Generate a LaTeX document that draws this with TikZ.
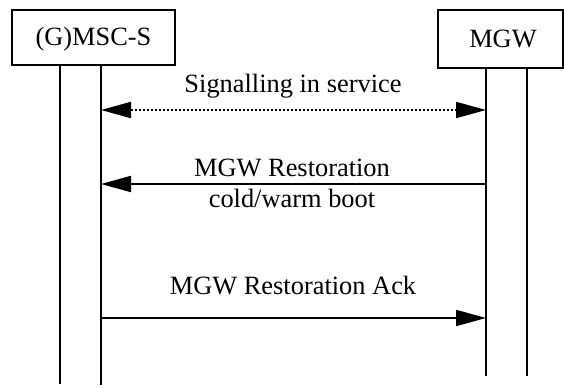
\documentclass[tikz,border=0pt]{standalone}
\usepackage{fontspec}
\setmainfont{Liberation Serif}
\usetikzlibrary{arrows.meta}
\tikzset{
  entity/.style={draw,line width=1pt,inner sep=0pt},
  msgtext/.style={anchor=base,inner sep=0pt},
  lifeline/.style={line width=1pt},
  msg/.style={line width=1pt,-{Triangle[length=15pt,width=8pt]}},
}
\begin{document}
\begin{tikzpicture}[x=0.5pt,y=-0.5pt,font=\fontsize{13.2pt}{15pt}\selectfont]
  \useasboundingbox (0,0) rectangle (564,387);
  % entities
  \node[entity,minimum width=81.5pt,minimum height=27.5pt] (msc) at (93.5,37.5) {};
  \node[msgtext] at (93.5,45) {(G)MSC-S};
  \node[entity,minimum width=62.5pt,minimum height=29pt] (mgw) at (500.5,39) {};
  \node[msgtext] at (503,47) {MGW};

  % lifelines
  \coordinate (mscA) at (60,65);   \coordinate (mscAe) at (60,384);
  \coordinate (mscB) at (101,65);  \coordinate (mscBe) at (101,385);
  \coordinate (mgwA) at (486,68);  \coordinate (mgwAe) at (486,376);
  \coordinate (mgwB) at (527,68);  \coordinate (mgwBe) at (527,376);
  \draw[lifeline] (mscA)--(mscAe);
  \draw[lifeline] (mscB)--(mscBe);
  \draw[lifeline] (mgwA)--(mgwAe);
  \draw[lifeline] (mgwB)--(mgwBe);

  % messages
  \coordinate (s1) at (101,110); \coordinate (e1) at (486,110);
  \draw[msg,{Triangle[length=15pt,width=8pt]}-{Triangle[length=15pt,width=8pt]},dash pattern=on 1pt off 1pt] (s1)--(e1);
  \node[msgtext] at (293,92) {Signalling in service};

  \coordinate (s2) at (486,184); \coordinate (e2) at (101,184);
  \draw[msg] (s2)--(e2);
  \node[msgtext] at (292,176) {MGW Restoration};
  \node[msgtext] at (292,207) {cold/warm boot};

  \coordinate (s3) at (101,318); \coordinate (e3) at (486,318);
  \draw[msg] (s3)--(e3);
  \node[msgtext] at (293,294) {MGW Restoration Ack};
\end{tikzpicture}
\end{document}
